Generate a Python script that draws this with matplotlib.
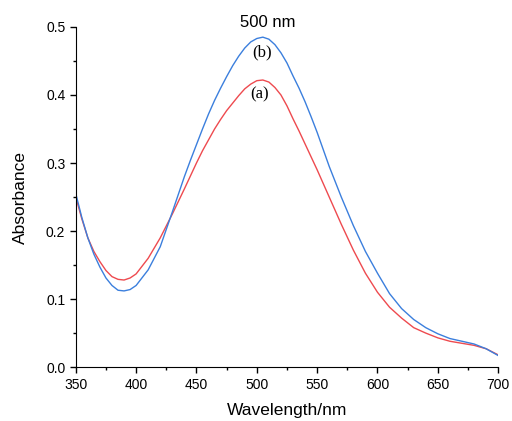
import numpy as np
import matplotlib.pyplot as plt
from matplotlib.ticker import MultipleLocator

# wavelength (nm)
wl = [350, 355, 360, 365, 370, 375, 380, 385, 390, 395, 400, 410, 420, 430, 440, 445,
      450, 455, 460, 465, 470, 475, 480, 485, 490, 495, 500, 505, 510, 515, 520, 525,
      530, 535, 540, 545, 550, 555, 560, 570, 580, 590, 600, 610, 620, 630, 640, 650,
      660, 670, 680, 690, 700]

# (a) red spectrum
abs_a = [0.250, 0.218, 0.190, 0.170, 0.155, 0.142, 0.133, 0.129, 0.128, 0.131, 0.137,
         0.160, 0.190, 0.225, 0.262, 0.281, 0.300, 0.318, 0.334, 0.350, 0.364, 0.377,
         0.388, 0.399, 0.409, 0.416, 0.421, 0.422, 0.419, 0.411, 0.400, 0.384, 0.365,
         0.347, 0.328, 0.309, 0.290, 0.270, 0.250, 0.210, 0.172, 0.138, 0.110, 0.088,
         0.072, 0.058, 0.050, 0.043, 0.038, 0.035, 0.032, 0.027, 0.018]

# (b) blue spectrum
abs_b = [0.255, 0.220, 0.190, 0.166, 0.147, 0.131, 0.120, 0.113, 0.112, 0.114, 0.120,
         0.143, 0.177, 0.228, 0.280, 0.304, 0.327, 0.350, 0.372, 0.392, 0.410, 0.427,
         0.443, 0.457, 0.469, 0.478, 0.483, 0.485, 0.482, 0.474, 0.462, 0.447, 0.428,
         0.410, 0.390, 0.368, 0.345, 0.320, 0.295, 0.250, 0.208, 0.170, 0.138, 0.108,
         0.086, 0.070, 0.058, 0.049, 0.042, 0.038, 0.034, 0.027, 0.017]

fig = plt.figure(figsize=(5.12, 4.21), dpi=100)
ax = fig.add_axes([0.148, 0.128, 0.825, 0.808])

ax.plot(wl, abs_a, color='#ee4a4f', lw=1.0)
ax.plot(wl, abs_b, color='#3b7fdd', lw=1.0)

ax.set_xlim(350, 700)
ax.set_ylim(0, 0.5)
ax.xaxis.set_major_locator(MultipleLocator(50))
ax.xaxis.set_minor_locator(MultipleLocator(25))
ax.yaxis.set_major_locator(MultipleLocator(0.1))
ax.yaxis.set_minor_locator(MultipleLocator(0.05))
ax.yaxis.set_major_formatter(plt.FuncFormatter(lambda v, p: '%.1f' % v))

for s in ['top', 'right']:
    ax.spines[s].set_visible(False)
ax.tick_params(which='major', direction='out', length=4, width=1, labelsize=10)
ax.tick_params(which='minor', direction='out', length=2.5, width=1)
for lab in ax.get_xticklabels() + ax.get_yticklabels():
    lab.set_family('Liberation Sans')

ax.set_xlabel('Wavelength/nm', fontsize=12.5, family='Liberation Sans', labelpad=8)
ax.set_ylabel('Absorbance', fontsize=12.5, family='Liberation Sans', labelpad=13)

ax.text(509, 0.506, '500 nm', ha='center', va='center', fontsize=12,
        family='Liberation Sans', clip_on=False)
ax.text(504, 0.462, '(b)', ha='center', va='center', fontsize=12, family='Liberation Serif')
ax.text(502.5, 0.401, '(a)', ha='center', va='center', fontsize=12, family='Liberation Serif')

fig.savefig('out.png', dpi=100)
